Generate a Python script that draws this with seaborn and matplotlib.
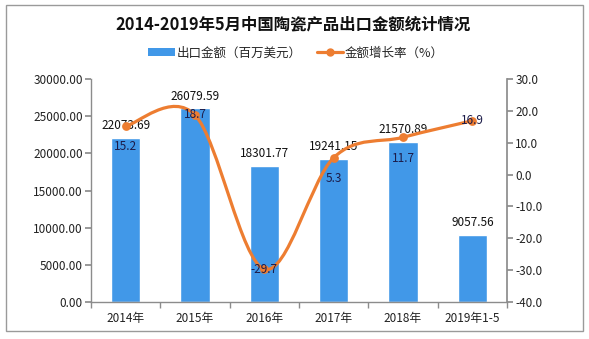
import numpy as np
import pandas as pd
import matplotlib
matplotlib.use("Agg")
import matplotlib.pyplot as plt
import seaborn as sns
from matplotlib.path import Path
from matplotlib.patches import PathPatch, Rectangle
from matplotlib.lines import Line2D
from matplotlib.patches import Patch

# ---- data ----
categories = ["2014年", "2015年", "2016年", "2017年", "2018年", "2019年1-5"]
export_value = [22073.69, 26079.59, 18301.77, 19241.15, 21570.89, 9057.56]
growth_rate = [15.2, 18.7, -29.7, 5.3, 11.7, 16.9]
left_ticks = [0, 5000, 10000, 15000, 20000, 25000, 30000]
right_ticks = [-40, -30, -20, -10, 0, 10, 20, 30]

# ---- style / layout ----
growth_label_dy = [-15, 0, 0, -15, -15, 0]  # label offsets in points
bar_color = "#4198E8"
line_color = "#ED7D31"
axis_color = "#8c8c8c"
text_color = "#222222"

sns.set_theme(style="white")
plt.rcParams["font.family"] = ["Noto Sans CJK SC", "DejaVu Sans"]

fig = plt.figure(figsize=(5.89, 3.39), dpi=100)
ax = fig.add_axes([91 / 589, 1 - 302 / 339, (507 - 91) / 589, (302 - 79) / 339])

df = pd.DataFrame({"cat": categories, "value": export_value})
sns.barplot(data=df, x="cat", y="value", color=bar_color, saturation=1,
            width=0.42, ax=ax)
ax.set_xlim(-0.5, len(categories) - 0.5)
ax.set_ylim(0, 30000)
ax.set_yticks(left_ticks)
ax.set_yticklabels([f"{v:.2f}" for v in left_ticks], fontsize=8.5, color=text_color)
ax.set_xlabel("")
ax.set_ylabel("")
ax.set_xticks(range(len(categories)))
ax.set_xticklabels(categories, fontsize=8.5, color=text_color)
ax.tick_params(axis="x", length=0, pad=7)
ax.tick_params(axis="y", length=4, color=axis_color, direction="out", pad=2, left=True)
# category separator ticks on x axis
ax.set_xticks(np.arange(-0.5, len(categories), 1.0), minor=True)
ax.tick_params(axis="x", which="minor", length=4, color=axis_color, direction="out", bottom=True)
for s in ["top", "right"]:
    ax.spines[s].set_visible(False)
for s in ["left", "bottom"]:
    ax.spines[s].set_color(axis_color)
    ax.spines[s].set_linewidth(1)

for i, v in enumerate(export_value):
    ax.annotate(f"{v:.2f}", (i, v), xytext=(0, 4), textcoords="offset points",
                ha="center", va="bottom", fontsize=8.5, color="#111111")

# ---- secondary axis: growth rate ----
ax2 = ax.twinx()
ax2.set_ylim(-40, 30)
ax2.set_yticks(right_ticks)
ax2.set_yticklabels([f"{v:.1f}" for v in right_ticks], fontsize=8.5, color=text_color)
ax2.tick_params(axis="y", length=4, color=axis_color, direction="out", pad=2, right=True)
for s in ["top", "left", "bottom"]:
    ax2.spines[s].set_visible(False)
ax2.spines["right"].set_color(axis_color)
ax2.grid(False)
ax.grid(False)

xs = np.arange(len(growth_rate), dtype=float)
ys = np.array(growth_rate, dtype=float)
pts = np.column_stack([xs, ys])
verts = [tuple(pts[0])]
codes = [Path.MOVETO]
n = len(pts)
for i in range(n - 1):
    p0 = pts[i - 1] if i > 0 else pts[i]
    p1 = pts[i]
    p2 = pts[i + 1]
    p3 = pts[i + 2] if i + 2 < n else pts[i + 1]
    c1 = p1 + (p2 - p0) / 6.0
    c2 = p2 - (p3 - p1) / 6.0
    verts += [tuple(c1), tuple(c2), tuple(p2)]
    codes += [Path.CURVE4, Path.CURVE4, Path.CURVE4]
ax2.add_patch(PathPatch(Path(verts, codes), facecolor="none", edgecolor=line_color,
                        lw=2.3, zorder=3))
sns.scatterplot(x=xs, y=ys, color=line_color, s=40, edgecolor=line_color,
                linewidth=0, ax=ax2, zorder=4, legend=False)

for i, v in enumerate(growth_rate):
    ax2.annotate(f"{v:.1f}", (i, v), xytext=(0, growth_label_dy[i]),
                 textcoords="offset points", ha="center", va="center",
                 fontsize=8.5, color="#1c1c4a", zorder=5)

# ---- title and legend ----
fig.text(293 / 589, 1 - 25 / 339, "2014-2019年5月中国陶瓷产品出口金额统计情况",
         ha="center", va="center", fontsize=11.8, fontweight="bold", color="#111111")

handles = [Patch(facecolor=bar_color, edgecolor="none"),
           Line2D([0], [0], color=line_color, lw=2.3, marker="o", markersize=5)]
fig.legend(handles, ["出口金额（百万美元）", "金额增长率（%）"],
           loc="center", bbox_to_anchor=(296 / 589, 1 - 53 / 339), ncol=2, frameon=False,
           fontsize=9, handlelength=2.1, handleheight=0.55, columnspacing=1.2,
           handletextpad=0.15)

# outer frame
fig.patches.append(Rectangle((6 / 589, 1 - 331 / 339), 577 / 589, 326 / 339,
                             transform=fig.transFigure, fill=False,
                             edgecolor="#9a9a9a", lw=1))

fig.savefig("out.png", dpi=100)
